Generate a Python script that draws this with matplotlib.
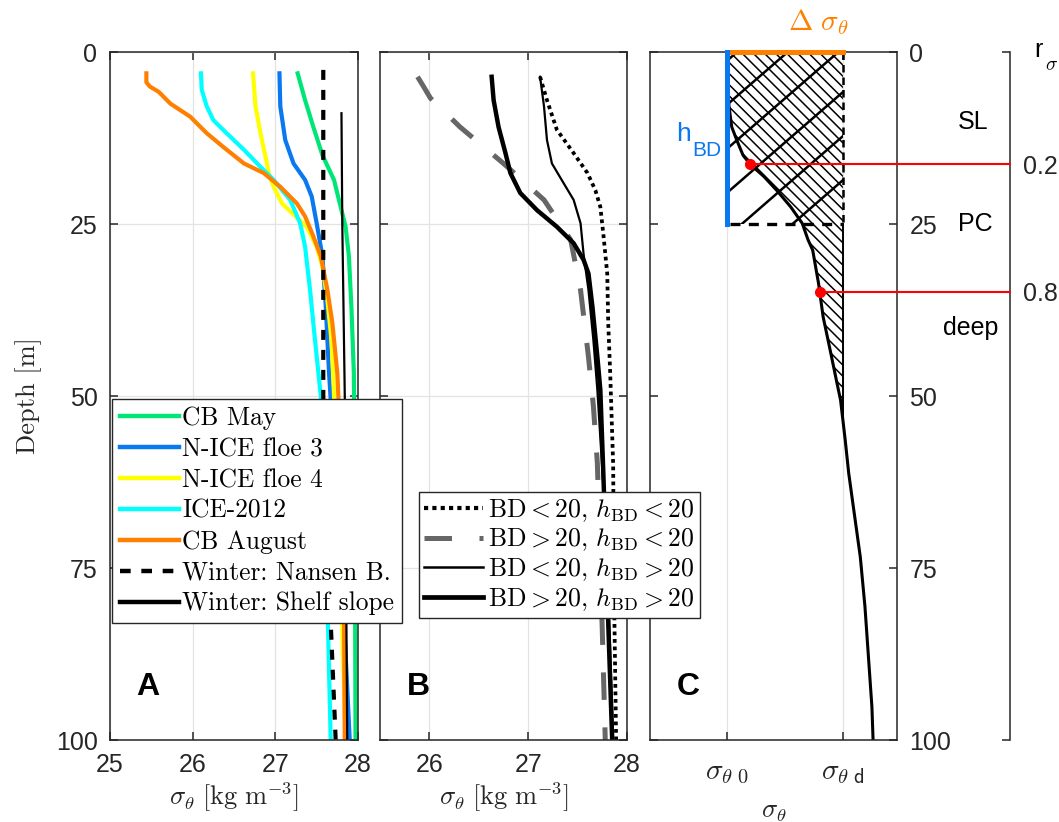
import numpy as np
import matplotlib
matplotlib.use('Agg')
import matplotlib.pyplot as plt
from matplotlib.lines import Line2D
from matplotlib.patches import Rectangle

# ---------------- data ----------------
# Panel A: density profiles (depth [m], sigma_theta [kg m-3])
cb_may_d = [3.1, 7.0, 10.9, 15.0, 18.6, 22.5, 25.4, 29.7, 37.0, 46.7, 60, 80, 100]
cb_may_s = [27.27, 27.36, 27.46, 27.57, 27.71, 27.79, 27.85, 27.89, 27.92, 27.95, 27.96, 27.965, 27.97]

nice3_d = [3.1, 7.9, 12.8, 16.2, 18.6, 21.0, 24.9, 29.7, 37.0, 46.7, 60, 80, 100]
nice3_s = [27.05, 27.06, 27.12, 27.22, 27.36, 27.44, 27.50, 27.57, 27.61, 27.65, 27.72, 27.82, 27.90]

nice4_d = [3.1, 7.9, 11.8, 15.7, 17.6, 19.6, 22.0, 23.4, 25.4, 28.3, 31.2, 36, 42, 50, 65, 80, 100]
nice4_s = [26.73, 26.76, 26.82, 26.89, 26.92, 26.98, 27.08, 27.20, 27.38, 27.50, 27.57, 27.63, 27.68,
           27.71, 27.76, 27.80, 27.85]

ice12_d = [3.1, 5.5, 7.9, 9.9, 11.8, 14.2, 16.7, 18.6, 21.5, 24.9, 28.3, 34.6, 41.9, 50, 65, 80, 100]
ice12_s = [26.10, 26.11, 26.17, 26.25, 26.41, 26.62, 26.82, 26.98, 27.18, 27.30, 27.36, 27.42, 27.48,
           27.55, 27.60, 27.63, 27.67]

cbaug_d = [3.1, 4.4, 5.0, 5.8, 7.5, 9.4, 11.8, 13.8, 16.2, 17.6, 19.6, 22.0, 23.9, 26.8, 29.7, 34.6,
           39.4, 46.7, 60, 80, 100]
cbaug_s = [25.44, 25.44, 25.48, 25.59, 25.73, 25.97, 26.17, 26.37, 26.62, 26.86, 27.06, 27.26, 27.36,
           27.46, 27.55, 27.63, 27.69, 27.75, 27.80, 27.83, 27.84]

nansen_d = [2.6, 50, 83, 100]
nansen_s = [27.58, 27.58, 27.67, 27.73]

shelf_d = [8.9, 25, 50, 100]
shelf_s = [27.80, 27.81, 27.84, 27.87]

labels_a = ['CB May', 'N-ICE floe 3', 'N-ICE floe 4', 'ICE-2012', 'CB August',
            'Winter: Nansen B.', 'Winter: Shelf slope']

# Panel B: composite profiles
dot_d = [3.6, 7.0, 11.3, 14.7, 17.6, 20.1, 22.5, 26.4, 32.2, 39.4, 46.7, 60, 80, 100]
dot_s = [27.12, 27.19, 27.29, 27.46, 27.60, 27.68, 27.73, 27.76, 27.80, 27.81, 27.83, 27.86, 27.87, 27.89]

gray_d = [3.6, 5.0, 6.7, 10.9, 16.2, 21.5, 27.3, 34.6, 44.3, 51.5, 59.8, 84.2, 100]
gray_s = [25.88, 25.94, 26.01, 26.31, 26.75, 27.16, 27.43, 27.53, 27.61, 27.66, 27.70, 27.75, 27.78]

thin_d = [3.6, 7.9, 12.8, 16.2, 19.1, 21.5, 24.9, 29.3, 34.6, 41.9, 49.1, 70, 100]
thin_s = [27.12, 27.16, 27.19, 27.24, 27.36, 27.46, 27.53, 27.56, 27.61, 27.66, 27.70, 27.79, 27.86]

thick_d = [3.6, 7.0, 10.9, 14.7, 17.6, 20.5, 23.0, 25.4, 27.8, 30.2, 32.2, 37.0, 44.3, 49.1, 61, 83, 100]
thick_s = [26.63, 26.65, 26.70, 26.77, 26.82, 26.92, 27.09, 27.29, 27.46, 27.56, 27.61, 27.65, 27.70,
           27.73, 27.76, 27.81, 27.85]

labels_b = [r'$\mathrm{BD} < 20,\, h_{\mathrm{BD}} < 20$',
            r'$\mathrm{BD} > 20,\, h_{\mathrm{BD}} < 20$',
            r'$\mathrm{BD} < 20,\, h_{\mathrm{BD}} > 20$',
            r'$\mathrm{BD} > 20,\, h_{\mathrm{BD}} > 20$']

# Panel C: schematic profile (normalised sigma, depth)
SIG0, SIGD = 0.0, 1.0
H_BD = 25
prof_d = [0, 5, 8, 10.9, 12.8, 15.0, 16.3, 18.1, 20.1, 22.5, 24.9, 27.3, 28.8, 33.6, 38.5, 43.3, 48.2,
          50.6, 56.4, 61.2, 66.1, 73.4, 80.6, 87.9, 95.2, 100]
prof_x = [0, 0.005, 0.02, 0.043, 0.086, 0.14, 0.20, 0.32, 0.43, 0.55, 0.65, 0.70, 0.74, 0.79, 0.83, 0.89,
          0.95, 0.98, 1.02, 1.05, 1.09, 1.15, 1.19, 1.22, 1.25, 1.26]
r_levels = [0.2, 0.8]

depth_ticks = [0, 25, 50, 75, 100]

# ---------------- style ----------------
W, H = 1059, 822
plt.rcParams['font.family'] = ['Liberation Sans', 'DejaVu Sans']
plt.rcParams['mathtext.fontset'] = 'cm'
plt.rcParams['hatch.linewidth'] = 1.1

GREEN = '#00e676'
BLUE = '#0a78f0'
YELLOW = '#ffff00'
CYAN = '#00ffff'
ORANGE = '#ff8000'
DARK = '#262626'
GRID = '#e3e3e3'

fig = plt.figure(figsize=(W / 100, H / 100), dpi=100)


def px_axes(l, r, t, b):
    return [l / W, 1 - b / H, (r - l) / W, (b - t) / H]


def style(ax, xgrid=True, ygrid=True):
    ax.set_ylim(100, 0)
    ax.set_yticks(depth_ticks)
    ax.tick_params(direction='in', length=6, width=1.1, top=True, right=True,
                   labelsize=18, pad=9, colors=DARK)
    for s in ax.spines.values():
        s.set_linewidth(1.1)
        s.set_color(DARK)
    ax.set_axisbelow(True)
    if xgrid:
        ax.xaxis.grid(True, color=GRID, lw=0.9)
    if ygrid:
        ax.yaxis.grid(True, color=GRID, lw=0.9)


ax_c = fig.add_axes(px_axes(650, 897, 52, 740), zorder=1)
ax_b = fig.add_axes(px_axes(380, 627, 52, 740), zorder=2)
ax_a = fig.add_axes(px_axes(110, 358, 52, 740), zorder=3)

xlab = r'$\sigma_\theta\ [\mathrm{kg\ m^{-3}}]$'

# ---------------- panel A ----------------
style(ax_a)
lw_c = 3.0
ax_a.plot(cb_may_s, cb_may_d, color=GREEN, lw=lw_c)
ax_a.plot(nice3_s, nice3_d, color=BLUE, lw=lw_c)
ax_a.plot(nice4_s, nice4_d, color=YELLOW, lw=lw_c)
ax_a.plot(ice12_s, ice12_d, color=CYAN, lw=lw_c)
ax_a.plot(cbaug_s, cbaug_d, color=ORANGE, lw=lw_c)
ax_a.plot(nansen_s, nansen_d, color='k', lw=3.0, dashes=(2.4, 2.4))
ax_a.plot(shelf_s, shelf_d, color='k', lw=1.6)
ax_a.set_xlim(25, 28)
ax_a.set_xticks([25, 26, 27, 28])
ax_a.set_ylabel('Depth [m]', fontfamily='cmr10', fontsize=19, color=DARK)
ax_a.yaxis.set_label_coords((42 - 110) / 248, 0.5)
ax_a.set_xlabel(xlab, fontsize=19, color=DARK)
ax_a.xaxis.set_label_coords(0.5, (740 - 780) / 688)

handles_a = [Line2D([], [], color=GREEN, lw=3.2), Line2D([], [], color=BLUE, lw=3.2),
             Line2D([], [], color=YELLOW, lw=3.2), Line2D([], [], color=CYAN, lw=3.2),
             Line2D([], [], color=ORANGE, lw=3.2),
             Line2D([], [], color='k', lw=3.2, dashes=(2.4, 2.4)),
             Line2D([], [], color='k', lw=3.2)]
leg_a = fig.legend(handles_a, labels_a, loc='upper left', bbox_to_anchor=(112 / W, 1 - 399 / H),
                   prop={'family': 'cmr10', 'size': 18.3}, handlelength=2.35, handletextpad=0.12,
                   borderpad=0.3, labelspacing=0.28, fancybox=False, framealpha=1,
                   edgecolor=DARK, borderaxespad=0)
leg_a.get_frame().set_linewidth(1.0)

# ---------------- panel B ----------------
style(ax_b)
ax_b.plot(gray_s, gray_d, color='#666666', lw=3.6, dashes=(5.5, 5.5))
ax_b.plot(dot_s, dot_d, color='k', lw=2.7, dashes=(1, 1))
ax_b.plot(thin_s, thin_d, color='k', lw=1.6)
ax_b.plot(thick_s, thick_d, color='k', lw=3.2)
ax_b.set_xlim(25.5, 28)
ax_b.set_xticks([26, 27, 28])
ax_b.tick_params(labelleft=False)
ax_b.set_xlabel(xlab, fontsize=19, color=DARK)
ax_b.xaxis.set_label_coords(0.5, (740 - 780) / 688)

handles_b = [Line2D([], [], color='k', lw=3.0, dashes=(1, 1)),
             Line2D([], [], color='#666666', lw=3.6, dashes=(5.5, 5.5)),
             Line2D([], [], color='k', lw=1.8),
             Line2D([], [], color='k', lw=3.4)]
leg_b = fig.legend(handles_b, labels_b, loc='upper left', bbox_to_anchor=(419 / W, 1 - 492 / H),
                   prop={'size': 18.5}, handlelength=2.3, handletextpad=0.2,
                   borderpad=0.2, labelspacing=0.12, fancybox=False, framealpha=1,
                   edgecolor=DARK, borderaxespad=0)
leg_b.get_frame().set_linewidth(1.0)

# ---------------- panel C ----------------
style(ax_c, xgrid=True, ygrid=False)
ax_c.set_xlim(-0.661, 1.466)
ax_c.set_xticks([SIG0, SIGD])
ax_c.set_xticklabels([r'$\sigma_{\theta\ \mathsf{0}}$', r'$\sigma_{\theta\ \mathsf{d}}$'])
ax_c.tick_params(axis='x', pad=13, labelsize=21)
ax_c.tick_params(axis='y', labelleft=False, labelright=True)
ax_c.set_xlabel(r'$\sigma_\theta$', fontsize=19, color=DARK)
ax_c.xaxis.set_label_coords(0.5, (740 - 800) / 688)

px = np.array(prof_x)
pd_ = np.array(prof_d)
ax_c.fill_betweenx(pd_, px, SIGD, where=px <= SIGD, interpolate=True, facecolor='none',
                   edgecolor='k', hatch='\\\\\\', linewidth=0)
# sparse cross hatch in surface box
box = Rectangle((SIG0, 0), SIGD - SIG0, H_BD, transform=ax_c.transData, visible=False)
ax_c.add_patch(box)
slope = 14.67
for c in np.arange(1.3, 45, 6.4):
    xx = np.array([SIG0, SIGD])
    ln, = ax_c.plot(xx, c - slope * xx, color='k', lw=1.8)
    ln.set_clip_path(box)

ax_c.plot(px, pd_, color='k', lw=2.2)
d_cross = np.interp(SIGD, px, pd_)
ax_c.plot([SIGD, SIGD], [H_BD, d_cross], color='k', lw=1.4)
ax_c.plot([SIGD, SIGD], [0, H_BD], color='k', lw=1.8, dashes=(3, 2))
ax_c.plot([SIG0 + 0.03, SIGD], [H_BD, H_BD], color='k', lw=2.4, dashes=(3, 2.5))
ax_c.plot([SIG0, SIGD], [0, 0], color=ORANGE, lw=3.6, solid_capstyle='projecting', clip_on=False, zorder=5)
ax_c.plot([SIG0, SIG0], [0, H_BD], color=BLUE, lw=3.6, solid_capstyle='projecting', clip_on=False, zorder=6)

# right-hand r_sigma axis
ax_r = fig.add_axes(px_axes(650, 1010, 52, 740), zorder=0)
ax_r.patch.set_visible(False)
for k in ['left', 'top', 'bottom']:
    ax_r.spines[k].set_visible(False)
ax_r.spines['right'].set_color(DARK)
ax_r.spines['right'].set_linewidth(1.1)
ax_r.set_ylim(100, 0)
ax_r.set_xticks([])
r_depths = [float(np.interp(r, (px - SIG0) / (SIGD - SIG0), pd_)) for r in r_levels]
ax_r.set_yticks([0] + r_depths + [100])
ax_r.set_yticklabels([''] + [f'{r:g}' for r in r_levels] + [''])
ax_r.tick_params(axis='y', left=False, right=True, labelleft=False, labelright=True,
                 direction='in', length=6, width=1.1, labelsize=18, pad=9, colors=DARK)

x_end = ax_c.transData.inverted().transform(ax_r.transAxes.transform((1, 0)))[0]
for r, d in zip(r_levels, r_depths):
    xr = SIG0 + r * (SIGD - SIG0)
    ax_c.plot([xr, x_end], [d, d], color='#ff0000', lw=1.5, clip_on=False, zorder=7)
    ax_c.plot([xr], [d], 'o', color='#ff0000', ms=7, clip_on=False, zorder=8)

# ---------------- annotations ----------------
def ftext(x, y, s, **kw):
    fig.text(x / W, 1 - y / H, s, **kw)

ftext(148, 687, 'A', fontsize=23, fontweight='bold', ha='center', va='center')
ftext(418, 687, 'B', fontsize=23, fontweight='bold', ha='center', va='center')
ftext(688, 687, 'C', fontsize=23, fontweight='bold', ha='center', va='center')
ftext(973, 122, 'SL', fontsize=18, ha='center', va='center')
ftext(975, 224, 'PC', fontsize=18, ha='center', va='center')
ftext(971, 328, 'deep', fontsize=18, ha='center', va='center')
ftext(683, 134, 'h', fontsize=19, color=BLUE, ha='center', va='center')
ftext(707, 151, 'BD', fontsize=15, color=BLUE, ha='center', va='center')
ftext(818, 22, r'$\Delta\ \sigma_\theta$', fontsize=21, color=ORANGE, ha='center', va='center')
ftext(1038, 50, 'r', fontsize=18, ha='center', va='center')
ftext(1052, 66, r'$\sigma$', fontsize=14, ha='center', va='center')

fig.savefig('out.png', dpi=100)
